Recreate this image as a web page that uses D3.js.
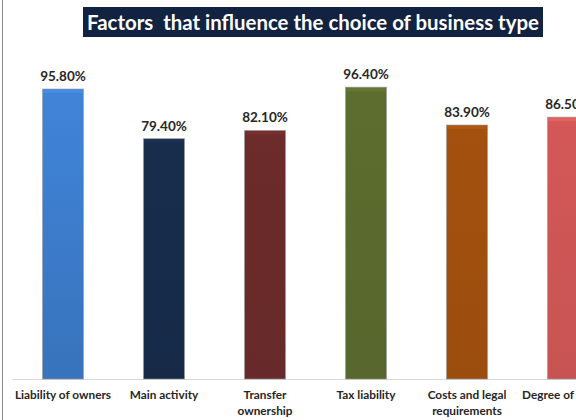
<!DOCTYPE html>
<html>
<head>
<meta charset="utf-8">
<script src="https://cdn.jsdelivr.net/npm/d3@7"></script>
<style>
  html, body { margin: 0; padding: 0; background: #fff; }
  svg { display: block; }
  text { font-family: Lato, "Open Sans", sans-serif; }
</style>
</head>
<body>
<script>
// Survey results: share of respondents naming each factor
const categories = [
  "Liability of owners",
  "Main activity",
  "Transfer ownership",
  "Tax liability",
  "Costs and legal requirements",
  "Degree of control"
];
const values = [95.8, 79.4, 82.1, 96.4, 83.9, 86.5];
const valueLabels = ["95.80%", "79.40%", "82.10%", "96.40%", "83.90%", "86.50%"];
// category text broken over lines
const categoryLines = [
  ["Liability of owners"],
  ["Main activity"],
  ["Transfer", "ownership"],
  ["Tax liability"],
  ["Costs and legal", "requirements"],
  ["Degree of control"]
];
const chartTitle = "Factors\u00a0 that influence the choice of business type";

const barColors = ["#3c7bca", "#172b4a", "#6a2a2a", "#5a6a2e", "#9f4f0e", "#cd5655"];

const W = 576, H = 420;
const svg = d3.select("body").append("svg").attr("width", W).attr("height", H);

// frame line on the left
svg.append("line").attr("x1", 2.5).attr("x2", 2.5).attr("y1", 0).attr("y2", H)
  .attr("stroke", "#8c8c8c").attr("stroke-width", 1);

const x = d3.scaleBand().domain(categories).range([12.5, 618.5])
  .paddingInner(0.594).paddingOuter(0.297);
const y = d3.scaleLinear().domain([0, 100]).range([379, 76.3]);

// gradients for the bars
const defs = svg.append("defs");
barColors.forEach((c, i) => {
  const g = defs.append("linearGradient").attr("id", "bar" + i)
    .attr("x1", 0).attr("y1", 0).attr("x2", 0).attr("y2", 1);
  g.append("stop").attr("offset", "0%").attr("stop-color", d3.color(c).brighter(i === 0 ? 0.2 : 0.08));
  g.append("stop").attr("offset", "100%").attr("stop-color", d3.color(c).darker(i === 0 ? 0.2 : 0.08));
});

// baseline
svg.append("line").attr("x1", 12).attr("x2", W).attr("y1", y(0) + 0.5).attr("y2", y(0) + 0.5)
  .attr("stroke", "#d9d9d9").attr("stroke-width", 1);

const bars = svg.append("g").selectAll("g").data(categories).join("g");

bars.append("rect")
  .attr("x", d => x(d))
  .attr("y", (d, i) => y(values[i]))
  .attr("width", x.bandwidth())
  .attr("height", (d, i) => y(0) - y(values[i]))
  .attr("fill", (d, i) => `url(#bar${i})`)
  .attr("stroke", "#9a9a9a").attr("stroke-opacity", 0.6).attr("stroke-width", 1);

// bevel highlight along the top edge
bars.append("rect")
  .attr("x", d => x(d) + 1)
  .attr("y", (d, i) => y(values[i]) + 1)
  .attr("width", x.bandwidth() - 2)
  .attr("height", 3)
  .attr("fill", (d, i) => d3.color(barColors[i]).brighter(0.5))
  .attr("opacity", 0.6);

// value labels
bars.append("text")
  .attr("x", d => x(d) + x.bandwidth() / 2)
  .attr("y", (d, i) => y(values[i]) - 8)
  .attr("text-anchor", "middle")
  .attr("font-size", 13.5).attr("font-weight", "bold").attr("fill", "#262626")
  .text((d, i) => valueLabels[i]);

// category axis labels
const axis = d3.axisBottom(x).tickSize(0).tickFormat("");
const ax = svg.append("g").attr("transform", `translate(0,${y(0)})`).call(axis);
ax.select(".domain").remove();
ax.selectAll(".tick").each(function(d, i) {
  const t = d3.select(this).append("text")
    .attr("text-anchor", "middle")
    .attr("font-size", 11.8).attr("font-weight", "bold").attr("fill", "#262626");
  categoryLines[i].forEach((line, k) => {
    t.append("tspan").attr("x", 0).attr("y", 20 + k * 15.5).text(line);
  });
});

// title box
const titleG = svg.append("g");
const tRect = titleG.append("rect").attr("fill", "#112341");
const tText = titleG.append("text")
  .attr("x", 313).attr("y", 29.5).attr("text-anchor", "middle")
  .attr("font-size", 21).attr("font-weight", "bold").attr("fill", "#ffffff")
  .text(chartTitle);
const targetW = 452;
const tw = tText.node().getComputedTextLength();
tText.attr("font-size", 21 * targetW / tw);
tRect.attr("x", 83).attr("y", 7).attr("width", 460).attr("height", 30);
</script>
</body>
</html>
